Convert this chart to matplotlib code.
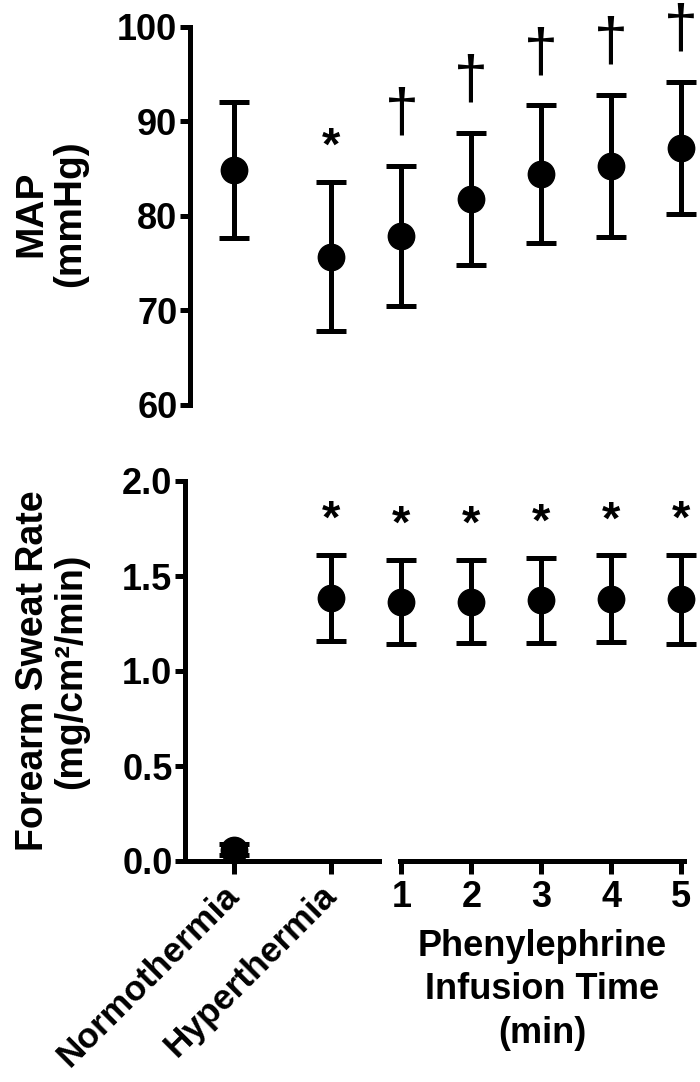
import matplotlib
matplotlib.use("Agg")
import matplotlib.pyplot as plt
import numpy as np

plt.rcParams['font.family'] = ['Liberation Sans', 'DejaVu Sans']
plt.rcParams['font.weight'] = 'bold'

# ---- data ----
cond_labels = ['Normothermia', 'Hyperthermia']
minute_labels = ['1', '2', '3', '4', '5']
cond_x = [0, 1]
minute_x = [1, 2, 3, 4, 5]

map_cond_mean = [84.9, 75.7]
map_cond_sd = [7.2, 7.9]
map_min_mean = [77.9, 81.8, 84.4, 85.3, 87.2]
map_min_sd = [7.4, 7.0, 7.3, 7.5, 7.0]

sweat_cond_mean = [0.06, 1.385]
sweat_cond_sd = [0.03, 0.225]
sweat_min_mean = [1.363, 1.365, 1.372, 1.38, 1.378]
sweat_min_sd = [0.22, 0.22, 0.225, 0.228, 0.235]

map_cond_marks = ['', '*']
map_min_marks = ['\u2020'] * 5
sweat_cond_marks = ['', '*']
sweat_min_marks = ['*'] * 5

W, H = 700, 1082
fig = plt.figure(figsize=(W / 100, H / 100), dpi=100)


def rect(x0, x1, y0, y1):
    return [x0 / W, 1 - y1 / H, (x1 - x0) / W, (y1 - y0) / H]


LW = 3.6
PXU_L = 97.0
CAT0 = 234
TICKFS = 26


def make_axes(x0_left, y0, y1):
    axl = fig.add_axes(rect(x0_left, 379, y0, y1))
    axr = fig.add_axes(rect(400, 684, y0, y1))
    axl.set_xlim(-(CAT0 - x0_left) / PXU_L, 1 + (379 - (CAT0 + PXU_L)) / PXU_L)
    axr.set_xlim(1 - 1.5 / 70.5, 5 + 3 / 70.5)
    for ax in (axl, axr):
        ax.patch.set_alpha(0)
        for s in ax.spines.values():
            s.set_linewidth(LW)
        ax.spines['top'].set_visible(False)
        ax.spines['right'].set_visible(False)
        ax.tick_params(width=LW, labelsize=TICKFS)
        ax.tick_params(axis='y', length=7.5, pad=1.5)
        ax.tick_params(axis='x', length=9)
    axr.spines['left'].set_visible(False)
    axr.tick_params(axis='y', left=False, labelleft=False)
    return axl, axr


def draw(ax, x, m, sd, marks, kind_offsets):
    ax.errorbar(x, m, yerr=sd, fmt='o', color='black', ms=19,
                capsize=11, capthick=LW, elinewidth=LW, clip_on=False)
    for art in ax.lines + list(ax.collections):
        art.set_clip_on(False)
    for xi, mi, si, mk in zip(x, m, sd, marks):
        if not mk:
            continue
        off, fs, fw = kind_offsets[mk]
        ax.annotate(mk, xy=(xi, mi + si), xytext=(0, off), textcoords='offset points',
                    ha='center', va='baseline', fontsize=fs, fontweight=fw,
                    annotation_clip=False)


offsets = {'*': (16, 34, 'bold'), '\u2020': (25.5, 44, 'normal')}

# ---- top panel ----
t_l, t_r = make_axes(190, 27, 405)
for ax in (t_l, t_r):
    ax.set_ylim(60, 100)
    ax.spines['bottom'].set_visible(False)
    ax.tick_params(axis='x', bottom=False, labelbottom=False)
t_l.set_yticks([60, 70, 80, 90, 100])
draw(t_l, cond_x, map_cond_mean, map_cond_sd, map_cond_marks, offsets)
draw(t_r, minute_x, map_min_mean, map_min_sd, map_min_marks, offsets)

# ---- bottom panel ----
b_l, b_r = make_axes(185, 481, 861)
for ax in (b_l, b_r):
    ax.set_ylim(0, 2.0)
b_l.set_yticks([0, 0.5, 1.0, 1.5, 2.0])
b_l.set_yticklabels(['0.0', '0.5', '1.0', '1.5', '2.0'])
b_l.set_xticks(cond_x)
b_l.set_xticklabels(cond_labels, rotation=45, ha='right', va='center',
                    rotation_mode='anchor', fontsize=25.5)
b_l.tick_params(axis='x', pad=12)
b_r.set_xticks(minute_x)
b_r.set_xticklabels(minute_labels, fontsize=TICKFS)
b_r.tick_params(axis='x', pad=5)
b_r.set_xlabel('Phenylephrine\nInfusion Time\n(min)', fontsize=26, fontweight='bold',
               linespacing=1.3, labelpad=10)
draw(b_l, cond_x, sweat_cond_mean, sweat_cond_sd, sweat_cond_marks, offsets)
draw(b_r, minute_x, sweat_min_mean, sweat_min_sd, sweat_min_marks, offsets)

# y labels
fig.text(51 / W, 1 - 214 / H, 'MAP\n(mmHg)', rotation=90, ha='center', va='center',
         fontsize=28, fontweight='bold', multialignment='center', linespacing=1.1)
fig.text(52 / W, 1 - 671 / H, 'Forearm Sweat Rate\n(mg/cm\u00b2/min)', rotation=90,
         ha='center', va='center', fontsize=27, fontweight='bold',
         multialignment='center', linespacing=1.1)

fig.savefig('out.png', dpi=100)
